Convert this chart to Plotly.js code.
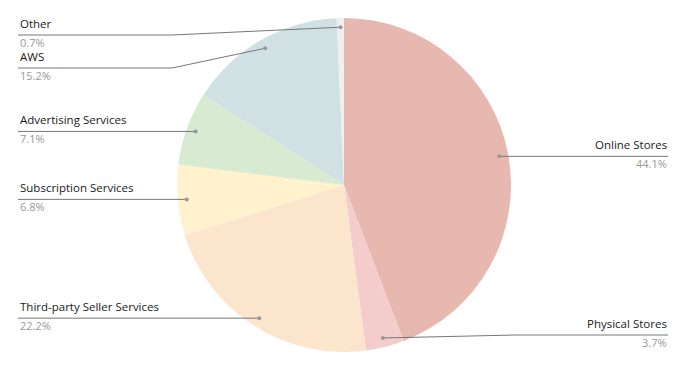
<!DOCTYPE html>
<html><head><meta charset="utf-8">
<script src="https://cdn.plot.ly/plotly-3.0.1.min.js"></script>
<style>html,body{margin:0;padding:0;background:#fff}#chart{width:687px;height:371px}</style>
</head><body><div id="chart"></div>
<script>
var labels = ["Online Stores","Physical Stores","Third-party Seller Services","Subscription Services","Advertising Services","AWS","Other"];
var values = [44.1, 3.7, 22.2, 6.8, 7.1, 15.2, 0.7];
var colors = ["#e6b8af","#f4cccc","#fce5cd","#fff2cc","#d9ead3","#d0e0e3","#efefef"];

var W = 687, H = 371;
var cx = 344, cy = 185, R = 167;
function px(x){return x/W;}
function py(y){return 1 - y/H;}

var total = values.reduce(function(a,b){return a+b;},0);
var shapes = [], annotations = [];
var items = [];
var cum = 0;
for (var i=0;i<values.length;i++){
  var mid = (cum + values[i]/2)/total*2*Math.PI;
  cum += values[i];
  var dx = cx + 0.945*R*Math.sin(mid);
  var dy = cy - 0.945*R*Math.cos(mid);
  items.push({i:i, dx:dx, dy:dy, side: Math.sin(mid) >= 0 ? 'right' : 'left'});
}
['left','right'].forEach(function(side){
  var arr = items.filter(function(d){return d.side===side;}).sort(function(a,b){return a.dy-b.dy;});
  var prev = -1e9;
  arr.forEach(function(d){
    var y = Math.min(Math.max(d.dy, 35), 335);
    if (y < prev + 33) y = prev + 33;
    d.ly = y; prev = y;
  });
});
items.forEach(function(d){
  var left = d.side==='left';
  var edge = left ? 18 : 668;
  var bend = left ? Math.min(cx - 172, d.dx) : Math.max(cx + 172, d.dx);
  if (Math.abs(d.ly - d.dy) < 0.5) bend = d.dx;
  shapes.push({type:'path', xref:'paper', yref:'paper',
    path: 'M'+px(edge)+','+py(d.ly)+' L'+px(bend)+','+py(d.ly)+' L'+px(d.dx)+','+py(d.dy),
    line:{color:'#777', width:1}});
  shapes.push({type:'circle', xref:'paper', yref:'paper',
    x0:px(d.dx-2), x1:px(d.dx+2), y0:py(d.dy+2), y1:py(d.dy-2),
    fillcolor:'#999', line:{width:0}});
  annotations.push({xref:'paper', yref:'paper', x:px(left?19:668), y:py(d.ly-3),
    xanchor:left?'left':'right', yanchor:'bottom', showarrow:false,
    text:labels[d.i], font:{family:'Open Sans, sans-serif', size:11.5, color:'#1a1a1a'}, borderpad:0});
  annotations.push({xref:'paper', yref:'paper', x:px(left?19:668), y:py(d.ly-1),
    xanchor:left?'left':'right', yanchor:'top', showarrow:false,
    text:values[d.i].toFixed(1)+'%', font:{family:'Open Sans, sans-serif', size:11, color:'#999'}, borderpad:0});
});

var data = [{type:'pie', labels:labels, values:values, sort:false, direction:'clockwise', rotation:0,
  marker:{colors:colors, line:{width:0}}, textinfo:'none', hoverinfo:'none',
  domain:{x:[px(cx-R), px(cx+R)], y:[py(cy+R), py(cy-R)]}}];
var layout = {width:W, height:H, margin:{l:0,r:0,t:0,b:0}, showlegend:false,
  paper_bgcolor:'#fff', shapes:shapes, annotations:annotations};
Plotly.newPlot('chart', data, layout, {staticPlot:true});
</script></body></html>
